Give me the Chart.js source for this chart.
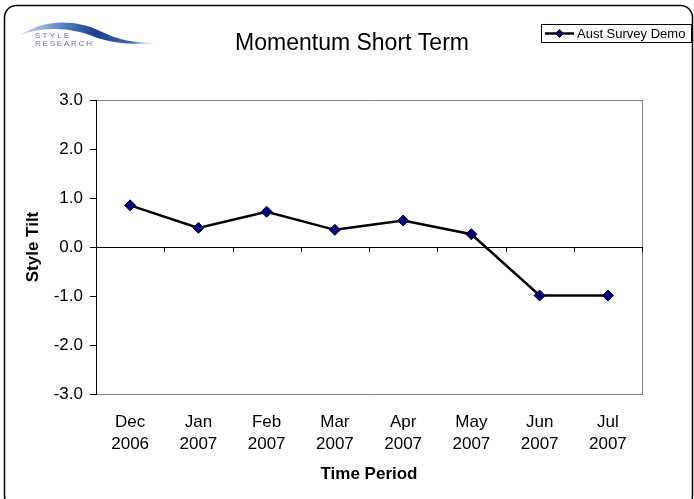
<!DOCTYPE html>
<html>
<head>
<meta charset="utf-8">
<script src="https://cdn.jsdelivr.net/npm/chart.js@4/dist/chart.umd.min.js"></script>
<style>
  html, body { margin: 0; padding: 0; background: #fff; }
  #wrap { width: 694px; height: 499px; position: relative; }
</style>
</head>
<body>
<div id="wrap"><canvas id="c" width="694" height="499"></canvas></div>
<script>
const categories = [['Dec','2006'],['Jan','2007'],['Feb','2007'],['Mar','2007'],['Apr','2007'],['May','2007'],['Jun','2007'],['Jul','2007']];
const seriesName = 'Aust Survey Demo';
const seriesValues = [0.85, 0.39, 0.72, 0.35, 0.54, 0.26, -0.99, -0.99];
const yTickValues = [-3, -2, -1, 0, 1, 2, 3];
const chartTitle = 'Momentum Short Term';
const xTitle = 'Time Period';
const yTitle = 'Style Tilt';
const logoLines = ['STYLE', 'RESEARCH'];

const FONT = '"Liberation Sans", Arial, Helvetica, sans-serif';

const decorPlugin = {
  id: 'decor',
  beforeDraw(chart) {
    const ctx = chart.ctx;
    ctx.save();
    ctx.fillStyle = '#fff';
    ctx.fillRect(0, 0, chart.width, chart.height);
    // outer rounded frame
    ctx.strokeStyle = '#000';
    ctx.lineWidth = 1.5;
    ctx.beginPath();
    if (ctx.roundRect) ctx.roundRect(4.5, 5.5, 688, 502, 12); else ctx.rect(4.5, 5.5, 688, 502);
    ctx.stroke();
    // logo swoosh
    const g = ctx.createLinearGradient(18, 0, 158, 0);
    g.addColorStop(0, 'rgba(170,195,230,0.6)');
    g.addColorStop(0.3, '#5d86c8');
    g.addColorStop(0.55, '#1c3f8f');
    g.addColorStop(0.8, '#3e68b4');
    g.addColorStop(1, 'rgba(170,195,230,0.5)');
    ctx.fillStyle = g;
    ctx.beginPath();
    ctx.moveTo(20, 35);
    ctx.bezierCurveTo(42, 20, 74, 18, 100, 31);
    ctx.bezierCurveTo(118, 40, 135, 43, 156, 43);
    ctx.bezierCurveTo(135, 45, 114, 43.5, 96, 37.5);
    ctx.bezierCurveTo(72, 27.5, 46, 26, 20, 35);
    ctx.closePath();
    ctx.fill();
    ctx.fillStyle = '#6f7c8a';
    ctx.font = '8px ' + FONT;
    ctx.textBaseline = 'middle';
    const drawSpaced = (txt, x, y, sp) => {
      for (const ch of txt) { ctx.fillText(ch, x, y); x += ctx.measureText(ch).width + sp; }
    };
    drawSpaced(logoLines[0], 35, 35.5, 2.2);
    drawSpaced(logoLines[1], 35, 43.5, 1.8);
    ctx.restore();
  },
  beforeDatasetsDraw(chart) {
    const ctx = chart.ctx;
    const a = chart.chartArea;
    const y0 = chart.scales.y.getPixelForValue(0);
    const n = categories.length;
    ctx.save();
    ctx.strokeStyle = '#000';
    ctx.lineWidth = 1;
    ctx.beginPath();
    for (let i = 1; i <= n; i++) {
      const x = Math.round(a.left + i * (a.right - a.left) / n) + 0.5;
      ctx.moveTo(x, Math.round(y0));
      ctx.lineTo(x, Math.round(y0) + 5);
    }
    ctx.stroke();
    ctx.restore();
  },
  afterDraw(chart) {
    const ctx = chart.ctx;
    const ds = chart.data.datasets[0];
    ctx.save();
    // legend box
    ctx.strokeStyle = '#000';
    ctx.lineWidth = 1;
    ctx.strokeRect(541.5, 24.5, 150, 18);
    ctx.lineWidth = 2.5;
    ctx.beginPath();
    ctx.moveTo(545, 33.5);
    ctx.lineTo(574, 33.5);
    ctx.stroke();
    ctx.fillStyle = ds.pointBackgroundColor;
    ctx.lineWidth = 1;
    ctx.beginPath();
    ctx.moveTo(559.5, 29.5); ctx.lineTo(563.5, 33.5); ctx.lineTo(559.5, 37.5); ctx.lineTo(555.5, 33.5);
    ctx.closePath();
    ctx.fill();
    ctx.stroke();
    ctx.fillStyle = '#000';
    ctx.font = '13px ' + FONT;
    ctx.textBaseline = 'middle';
    ctx.fillText(ds.label, 577, 34);
    ctx.restore();
  }
};

new Chart(document.getElementById('c'), {
  type: 'line',
  data: {
    labels: categories,
    datasets: [{
      label: seriesName,
      data: seriesValues,
      borderColor: '#000',
      borderWidth: 2.5,
      pointStyle: 'rectRot',
      pointRadius: 5.5,
      pointHoverRadius: 5.5,
      pointBackgroundColor: '#000080',
      pointBorderColor: '#000',
      pointBorderWidth: 1,
      tension: 0,
      fill: false
    }]
  },
  options: {
    responsive: false,
    animation: false,
    events: [],
    layout: { padding: { left: 10, right: 0, top: 0, bottom: 0 } },
    plugins: {
      legend: { display: false },
      tooltip: { enabled: false },
      title: {
        display: true,
        text: chartTitle,
        color: '#000',
        font: { family: FONT, size: 23, weight: 'normal' },
        padding: { top: 30, bottom: 42.4 }
      }
    },
    scales: {
      x: {
        offset: true,
        grid: { display: false, drawTicks: false },
        border: { display: false },
        ticks: {
          color: '#000',
          font: { family: FONT, size: 17, lineHeight: 1.3 },
          padding: 17,
          maxRotation: 0,
          autoSkip: false
        },
        title: {
          display: true,
          text: xTitle,
          color: '#000',
          font: { family: FONT, size: 17, weight: 'bold' },
          padding: { top: 0, bottom: 14 }
        },
        afterFit(s) { s.height = 105; }
      },
      y: {
        min: -3,
        max: 3,
        afterBuildTicks(s) { s.ticks = yTickValues.map(v => ({ value: v })); },
        grid: {
          drawOnChartArea: true,
          color: c => c.tick && c.tick.value === 0 ? '#000' : ((c.tick && (c.tick.value === 3 || c.tick.value === -3)) ? '#808080' : 'rgba(0,0,0,0)'),
          tickColor: '#000',
          tickLength: 6,
          lineWidth: 1
        },
        border: { display: true, color: '#000', width: 1 },
        ticks: {
          color: '#000',
          font: { family: FONT, size: 17 },
          padding: 7,
          callback: v => Number(v).toFixed(1)
        },
        title: {
          display: true,
          text: yTitle,
          color: '#000',
          font: { family: FONT, size: 17, weight: 'bold' },
          padding: { top: 13, bottom: 0 }
        },
        afterFit(s) { s.width = 86; }
      },
      yr: {
        position: 'right',
        min: -3,
        max: 3,
        grid: { display: false, drawTicks: false },
        border: { display: true, color: '#808080', width: 1 },
        ticks: { display: false },
        afterFit(s) { s.width = 52; }
      }
    }
  },
  plugins: [decorPlugin]
});
</script>
</body>
</html>
